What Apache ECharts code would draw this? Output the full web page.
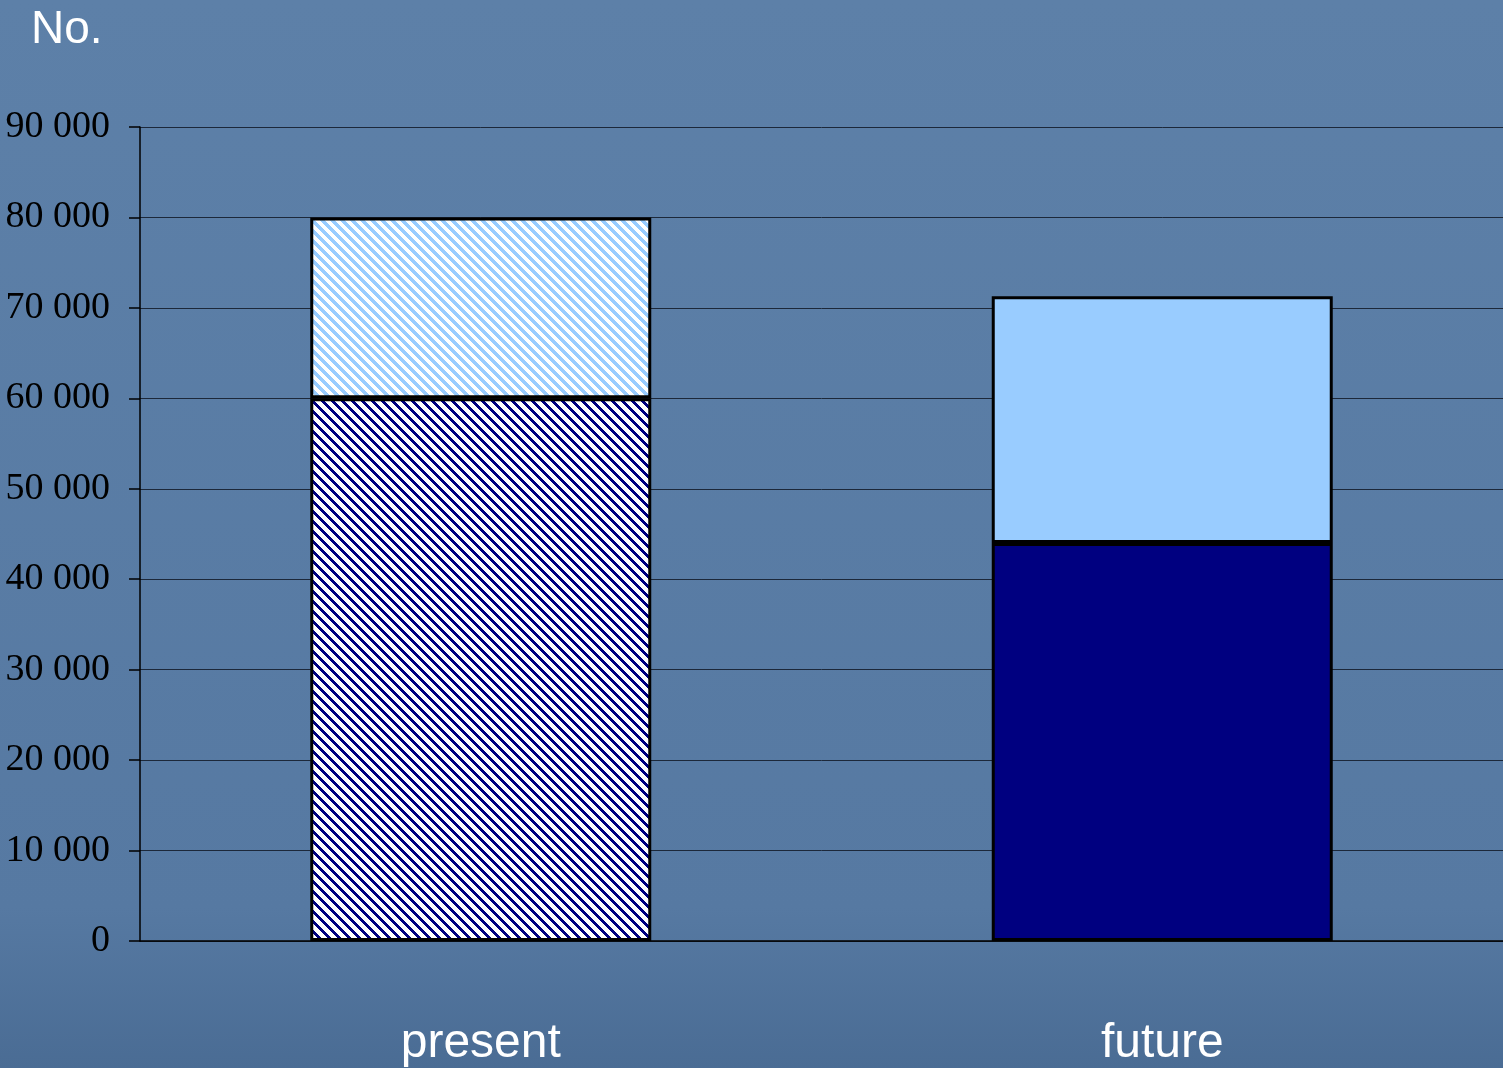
<!DOCTYPE html>
<html>
<head>
<meta charset="utf-8">
<script src="https://cdn.jsdelivr.net/npm/echarts@6/dist/echarts.min.js"></script>
<style>
html,body{margin:0;padding:0;background:#56799f;}
#chart{width:1503px;height:1068px;}
</style>
</head>
<body>
<div id="chart"></div>
<script>
const categories = ['present', 'future'];
const lowerValues = [60000, 44000];
const upperValues = [20000, 27300];
const yTicks = [0, 10000, 20000, 30000, 40000, 50000, 60000, 70000, 80000, 90000];
const unitLabel = 'No.';

function stripePattern(fg, bg, size, width) {
  const c = document.createElement('canvas');
  c.width = size; c.height = size;
  const ctx = c.getContext('2d');
  const img = ctx.createImageData(size, size);
  const parse = h => [parseInt(h.substr(1,2),16), parseInt(h.substr(3,2),16), parseInt(h.substr(5,2),16)];
  const f = parse(fg), b = parse(bg);
  for (let y = 0; y < size; y++) {
    for (let x = 0; x < size; x++) {
      const d = (((x - y) % size) + size) % size;
      const col = d < width ? f : b;
      const i = (y * size + x) * 4;
      img.data[i] = col[0]; img.data[i+1] = col[1]; img.data[i+2] = col[2]; img.data[i+3] = 255;
    }
  }
  ctx.putImageData(img, 0, 0);
  return { image: c, repeat: 'repeat' };
}

const darkHatch = stripePattern('#000080', '#ffffff', 10, 4);
const lightHatch = stripePattern('#99ccff', '#ffffff', 10, 5);
const darkSolid = '#000080';
const lightSolid = '#99ccff';

const chart = echarts.init(document.getElementById('chart'), null, { renderer: 'canvas' });

const option = {
  animation: false,
  backgroundColor: {
    type: 'linear', x: 0, y: 0, x2: 0, y2: 1,
    colorStops: [
      { offset: 0, color: '#5d80a8' },
      { offset: 0.85, color: '#5679a2' },
      { offset: 1, color: '#4a6c94' }
    ]
  },
  graphic: [{
    type: 'text',
    left: 31,
    top: 7,
    style: { text: unitLabel, fill: '#ffffff', font: '46px "Liberation Sans", Arial, sans-serif' }
  }],
  grid: { left: 140, right: -6, top: 127, bottom: 126, containLabel: false },
  xAxis: {
    type: 'category',
    data: categories,
    axisLine: { show: true, lineStyle: { color: '#000000', width: 1.5 } },
    axisTick: { show: false },
    axisLabel: { color: '#ffffff', fontSize: 48, fontFamily: '"Liberation Sans", Arial, sans-serif', margin: 79 }
  },
  yAxis: {
    type: 'value',
    min: 0,
    max: 90000,
    interval: 10000,
    axisLine: { show: true, lineStyle: { color: '#000000', width: 1.5 } },
    axisTick: { show: true, length: 11, lineStyle: { color: '#000000', width: 1.5 } },
    splitLine: { show: true, lineStyle: { color: '#1c283a', width: 1 } },
    axisLabel: {
      color: '#000000',
      fontSize: 38,
      fontFamily: '"Liberation Serif", "Times New Roman", serif',
      margin: 30,
      formatter: v => yTicks.indexOf(v) >= 0 ? String(v).replace(/\B(?=(\d{3})+(?!\d))/g, ' ') : ''
    }
  },
  series: [
    {
      name: 'lower',
      type: 'bar',
      stack: 'total',
      barWidth: 341,
      data: lowerValues.map((v, i) => ({
        value: v,
        itemStyle: { color: i === 0 ? darkHatch : darkSolid }
      })),
      itemStyle: { borderColor: '#000000', borderWidth: 3 }
    },
    {
      name: 'upper',
      type: 'bar',
      stack: 'total',
      barWidth: 341,
      data: upperValues.map((v, i) => ({
        value: v,
        itemStyle: { color: i === 0 ? lightHatch : lightSolid }
      })),
      itemStyle: { borderColor: '#000000', borderWidth: 3 }
    }
  ]
};

chart.setOption(option);
</script>
</body>
</html>
